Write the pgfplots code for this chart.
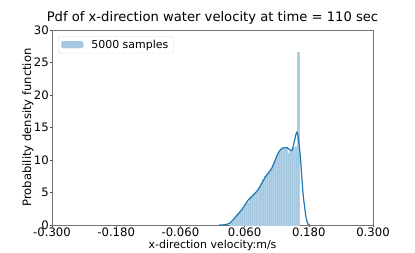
\documentclass[border=0pt]{standalone}
\usepackage{fontspec}
\setmainfont{DejaVu Sans}
\usepackage{pgfplots}
\pgfplotsset{compat=1.18}
\usetikzlibrary{calc}
\definecolor{sbblue}{HTML}{1F77B4}
\definecolor{barfill}{RGB}{165,200,225}
\begin{document}
\begin{tikzpicture}
\begin{axis}[
  scale only axis, width=321bp, height=195bp,
  xmin=-0.3, xmax=0.3, ymin=0, ymax=30,
  xtick={-0.3,-0.18,-0.06,0.06,0.18,0.3},
  xticklabels={-0.300,-0.180,-0.060,0.060,0.180,0.300},
  ytick={0,5,...,30},
  tick align=outside, major tick length=2bp,
  tick style={black!70, line width=0.6bp},
  axis line style={black!55, line width=0.6bp},
  xtick pos=bottom, ytick pos=left,
  ticklabel style={font=\fontsize{11.7}{13}\selectfont, inner sep=1bp},
  /pgf/number format/assume math mode=true,
  title={Pdf of x-direction water velocity at time = 110 sec},
  title style={font=\fontsize{13.2}{15}\selectfont, at={(axis description cs:0.5,1.0154)}, anchor=base},
  xlabel={x-direction velocity:m/s},
  xlabel style={font=\fontsize{11}{13}\selectfont, at={(axis description cs:0.5,-0.118)}, anchor=base},
  ylabel={Probability density function},
  ylabel style={font=\fontsize{11.6}{13}\selectfont, at={(axis description cs:-0.065,0.5)}, anchor=base},
  legend style={at={(axis description cs:0.0187,0.969)}, anchor=north west,
    draw=black!15, rounded corners=2bp, font=\fontsize{11}{13}\selectfont,
    inner xsep=3bp, inner ysep=1.5bp},
  legend cell align=left,
  clip=true,
]
\addplot[ybar interval, fill=barfill, draw=barfill!85!white, line width=0.15bp,
  area legend,
  legend image code/.code={\fill[barfill] (0bp,-3.5bp) rectangle (22bp,3.5bp);
    \path (28bp,0bp);}]
coordinates {
(0.0320,0.2) (0.0356,0.5) (0.0392,0.9) (0.0428,1.4) (0.0464,1.8) (0.0500,2.1)
(0.0536,2.4) (0.0572,2.8) (0.0608,3.2) (0.0644,3.5) (0.0680,4.1) (0.0716,4.4)
(0.0752,4.7) (0.0788,5.0) (0.0824,5.4) (0.0860,5.9) (0.0896,6.4) (0.0932,7.0)
(0.0968,7.5) (0.1004,7.9) (0.1040,8.2) (0.1076,8.6) (0.1112,9.2) (0.1148,9.9)
(0.1184,10.6) (0.1220,11.2) (0.1256,11.6) (0.1292,11.8) (0.1328,11.9) (0.1364,11.8)
(0.1400,11.0) (0.1436,11.4) (0.1472,11.7) (0.1508,12.0) (0.1544,12.1) (0.1580,26.6)
(0.1616,0)
};
\addlegendentry{5000 samples}
\addplot[sbblue, line width=1.2bp, smooth, tension=0.4, forget plot]
coordinates {
(0.012,0) (0.0178,0.0) (0.0234,0.05) (0.0327,0.3) (0.0458,1.5) (0.0551,2.4)
(0.0664,3.8) (0.0850,5.4) (0.0981,7.3) (0.1112,8.8) (0.1224,11.0) (0.1299,11.8)
(0.1393,11.9) (0.1486,11.5) (0.1579,14.3) (0.1636,11.1) (0.1692,4.9) (0.1748,1.2)
(0.1785,0.15) (0.182,0)
};
\end{axis}
\pgfresetboundingbox
\path[use as bounding box] ($(current axis.south west)+(-52bp,-28bp)$) rectangle ($(current axis.north east)+(42bp,30bp)$);
\end{tikzpicture}
\end{document}
